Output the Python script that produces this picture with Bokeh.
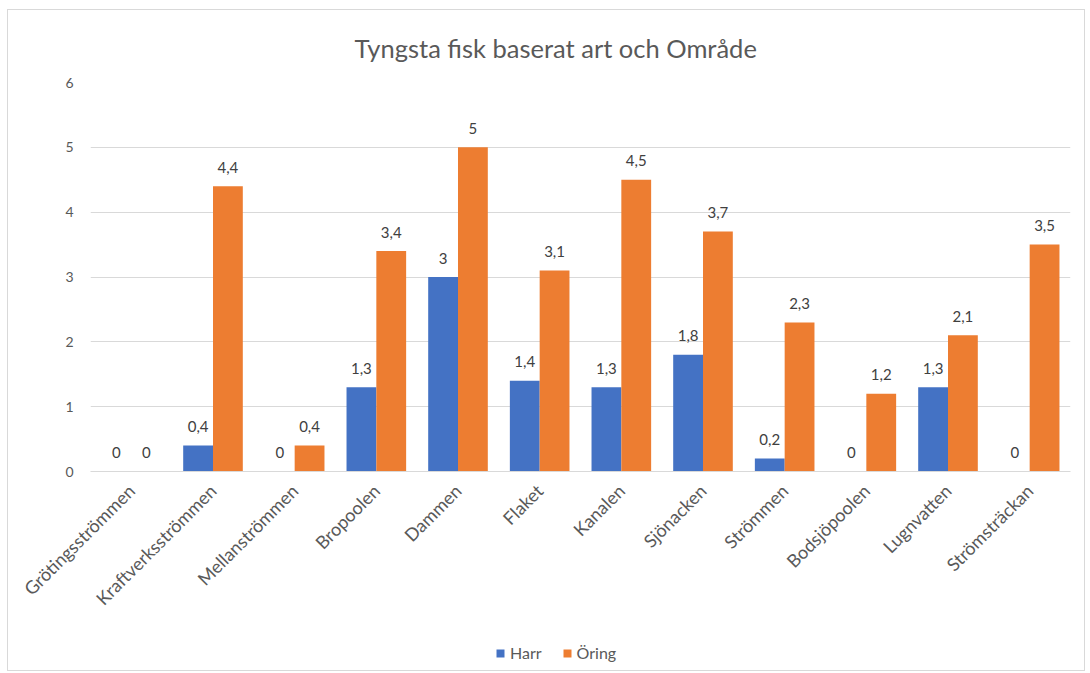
from bokeh.plotting import figure
from bokeh.models import FactorRange, ColumnDataSource, Title, Legend, LegendItem, LabelSet
from bokeh.layouts import column
from bokeh.transform import dodge
from bokeh.core.properties import value
from bokeh.embed import file_html
from bokeh.resources import INLINE
import math

categories = ["Grötingsströmmen", "Kraftverksströmmen", "Mellanströmmen", "Bropoolen",
              "Dammen", "Flaket", "Kanalen", "Sjönacken", "Strömmen", "Bodsjöpoolen",
              "Lugnvatten", "Strömsträckan"]
harr = [0, 0.4, 0, 1.3, 3, 1.4, 1.3, 1.8, 0.2, 0, 1.3, 0]
oring = [0, 4.4, 0.4, 3.4, 5, 3.1, 4.5, 3.7, 2.3, 1.2, 2.1, 3.5]
series_names = ["Harr", "Öring"]
series_cols = ["harr", "oring"]
series_colors = ["#4472C4", "#ED7D31"]
y_ticks = [0, 1, 2, 3, 4, 5, 6]
title_text = "Tyngsta fisk baserat art och Område"

FONT = "Lato"
GREY = "#595959"


def fmt(v):
    s = ("%g" % v)
    return s.replace(".", ",")


src = ColumnDataSource(dict(
    cat=categories, harr=harr, oring=oring,
    harr_lbl=[fmt(v) for v in harr], oring_lbl=[fmt(v) for v in oring],
))

p = figure(x_range=FactorRange(factors=categories, range_padding=0),
           y_range=(0, 6), width=1076, height=610,
           output_backend="svg", toolbar_location=None,
           min_border_left=82, min_border_right=14, min_border_top=72, min_border_bottom=149)
p.outline_line_color = None
p.background_fill_color = "white"
p.border_fill_color = "white"

p.title = Title(text=title_text, align="left", text_font=FONT, text_font_size="25.5px",
                text_color=GREY, text_font_style="normal", standoff=39, offset=264)

w = 0.365
offsets = [-w / 2, w / 2]
bar_renderers = []
for col, off, color in zip(series_cols, offsets, series_colors):
    r = p.vbar(x=dodge("cat", off, range=p.x_range), top=col, width=w, source=src,
               fill_color=color, line_color=None)
    bar_renderers.append(r)
    ls = LabelSet(x=dodge("cat", off, range=p.x_range), y=col, text=col + "_lbl", source=src,
                  text_align="center", text_baseline="middle", y_offset=19,
                  text_font=value(FONT), text_font_size="15px", text_color="#404040")
    p.add_layout(ls)

# axes
p.yaxis.ticker = y_ticks
p.yaxis.axis_line_color = None
p.yaxis.major_tick_line_color = None
p.yaxis.minor_tick_line_color = None
p.yaxis.major_label_text_font = FONT
p.yaxis.major_label_text_font_size = "14px"
p.yaxis.major_label_text_color = GREY
p.yaxis.major_label_standoff = 11

p.xaxis.axis_line_color = "#d9d9d9"
p.xaxis.major_tick_line_color = None
p.xaxis.minor_tick_line_color = None
p.xaxis.major_label_orientation = math.pi / 4
p.xaxis.major_label_text_font = FONT
p.xaxis.major_label_text_font_size = "18px"
p.xaxis.major_label_text_color = GREY
p.xaxis.major_label_standoff = 10

p.xgrid.grid_line_color = None
p.ygrid.grid_line_color = "#d9d9d9"

# legend strip below the chart (same data, y-range above the values so bars stay out of view)
leg = figure(width=1076, height=50, x_range=p.x_range, y_range=(10, 11),
             output_backend="svg", toolbar_location=None,
             min_border=0, min_border_left=0, min_border_right=0,
             min_border_top=0, min_border_bottom=0)
leg.axis.visible = False
leg.grid.visible = False
leg.outline_line_color = None
leg.border_fill_color = "white"
items = []
for name, col, off, color in zip(series_names, series_cols, offsets, series_colors):
    rr = leg.vbar(x=dodge("cat", off, range=p.x_range), top=col, width=w, source=src,
                  fill_color=color, line_color=None)
    items.append(LegendItem(label=name, renderers=[rr]))
legend = Legend(items=items, orientation="horizontal", location=(405, 8),
                label_text_font=FONT, label_text_font_size="16px", label_text_color=GREY,
                glyph_width=10, glyph_height=10, label_height=16, label_standoff=5,
                spacing=20, padding=0, margin=0, border_line_color=None,
                background_fill_alpha=0)
leg.add_layout(legend)

layout = column(p, leg, spacing=0,
                styles={"border": "1px solid #d9d9d9", "margin-left": "7px", "margin-top": "9px"})

open("out.html", "w").write(file_html(layout, INLINE))
